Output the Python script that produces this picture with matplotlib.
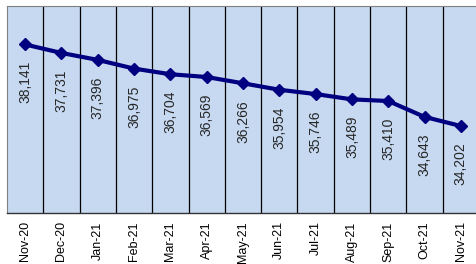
import matplotlib
matplotlib.use("Agg")
import matplotlib.pyplot as plt

months = ["Nov-20", "Dec-20", "Jan-21", "Feb-21", "Mar-21", "Apr-21", "May-21",
          "Jun-21", "Jul-21", "Aug-21", "Sep-21", "Oct-21", "Nov-21"]
values = [38141, 37731, 37396, 36975, 36704, 36569, 36266,
          35954, 35746, 35489, 35410, 34643, 34202]

plt.rcParams['font.family'] = ['Liberation Sans', 'DejaVu Sans']

fig = plt.figure(figsize=(4.77, 2.64), dpi=100)
W, H = 477, 264
# plot area: x 7..479 (clipped at right), y 6..213
ax = fig.add_axes([7 / W, (H - 213) / H, 472 / W, 207 / H])
ax.set_facecolor("#C6D9F1")

x = range(len(months))
ax.plot(x, values, color="#000080", lw=3, marker="D", markersize=6.5, zorder=3)

# vertical separators between categories
for b in range(1, len(months)):
    ax.axvline(b - 0.5, color="black", lw=0.9, zorder=1)

for i, v in enumerate(values):
    ax.annotate("{:,}".format(v), (i, v), xytext=(0, -12), textcoords="offset points",
                rotation=90, ha="center", va="top", fontsize=10, color="#262626")

ax.set_xlim(-0.5, len(months) - 0.5)
ax.set_ylim(30000, 40000)
ax.set_xticks(list(x))
ax.set_xticklabels(months, rotation=90, fontsize=9)
ax.tick_params(axis="x", length=0, pad=6)
ax.set_yticks([])

for side in ["left", "top", "right"]:
    ax.spines[side].set_color("#808080")
    ax.spines[side].set_linewidth(0.8)
ax.spines["bottom"].set_color("#333333")
ax.spines["bottom"].set_linewidth(1.0)

plt.savefig("out.png", dpi=100)
